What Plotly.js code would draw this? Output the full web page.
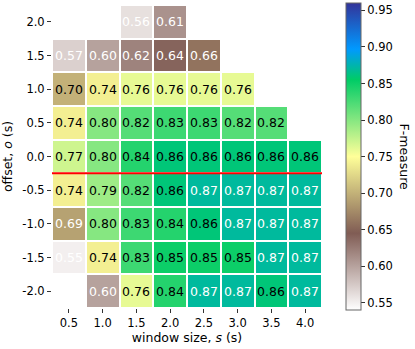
<!DOCTYPE html>
<html>
<head>
<meta charset="utf-8">
<script src="https://cdn.plot.ly/plotly-3.0.1.min.js"></script>
<style>
  html, body { margin: 0; padding: 0; background: #fff; }
  #plotDiv { width: 415px; height: 349px; }
</style>
</head>
<body>
<div id="plotDiv"></div>
<script>
// window sizes (x) and offsets (y), top row first
var windowSizes = [0.5, 1.0, 1.5, 2.0, 2.5, 3.0, 3.5, 4.0];
var offsets = [2.0, 1.5, 1.0, 0.5, 0.0, -0.5, -1.0, -1.5, -2.0];

// F-measure per offset row (null = no cell)
var fRow20  = [null, null, 0.56, 0.61, null, null, null, null];
var fRow15  = [0.57, 0.60, 0.62, 0.64, 0.66, null, null, null];
var fRow10  = [0.70, 0.74, 0.76, 0.76, 0.76, 0.76, null, null];
var fRow05  = [0.74, 0.80, 0.82, 0.83, 0.83, 0.82, 0.82, null];
var fRow00  = [0.77, 0.80, 0.84, 0.86, 0.86, 0.86, 0.86, 0.86];
var fRowM05 = [0.74, 0.79, 0.82, 0.86, 0.87, 0.87, 0.87, 0.87];
var fRowM10 = [0.69, 0.80, 0.83, 0.84, 0.86, 0.87, 0.87, 0.87];
var fRowM15 = [0.55, 0.74, 0.83, 0.85, 0.85, 0.85, 0.87, 0.87];
var fRowM20 = [null, 0.60, 0.76, 0.84, 0.87, 0.87, 0.86, 0.87];

var zRows = [fRow20, fRow15, fRow10, fRow05, fRow00, fRowM05, fRowM10, fRowM15, fRowM20];

var cbTicks = [0.55, 0.60, 0.65, 0.70, 0.75, 0.80, 0.85, 0.90, 0.95];
var splitOffset = -0.25;

// matplotlib terrain_r
var terrainR = [
  [0.0, 'rgb(255,255,255)'],
  [0.25, 'rgb(128,92,84)'],
  [0.5, 'rgb(255,255,153)'],
  [0.75, 'rgb(0,204,102)'],
  [0.85, 'rgb(0,153,255)'],
  [1.0, 'rgb(51,51,153)']
];

var trace = {
  type: 'heatmap',
  x: windowSizes,
  y: offsets,
  z: zRows,
  zmin: 0.54,
  zmax: 0.96,
  colorscale: terrainR,
  xgap: 2,
  ygap: 2,
  hoverongaps: false,
  colorbar: {
    x: 1.088, xanchor: 'left', xpad: 0,
    y: 0.498, yanchor: 'middle', ypad: 0,
    len: 1.01, lenmode: 'fraction',
    thickness: 15, thicknessmode: 'pixels',
    outlinecolor: '#666', outlinewidth: 1,
    ticks: 'outside', ticklen: 4, tickcolor: '#333',
    tickvals: cbTicks,
    ticktext: cbTicks.map(function (v) { return v.toFixed(2); }),
    tickfont: { size: 11.5, color: '#000' }
  }
};

var annotations = [];
for (var i = 0; i < offsets.length; i++) {
  for (var j = 0; j < windowSizes.length; j++) {
    var v = zRows[i][j];
    if (v === null) continue;
    annotations.push({
      x: windowSizes[j], y: offsets[i], xref: 'x', yref: 'y',
      text: v.toFixed(2), showarrow: false,
      font: { size: 12.5, color: (v < 0.695 || v > 0.865) ? '#fff' : '#000' }
    });
  }
}
// colorbar label, reads top to bottom
annotations.push({
  xref: 'paper', yref: 'paper', x: 1.307, y: 0.497,
  xanchor: 'center', yanchor: 'middle',
  text: 'F-measure', textangle: 90, showarrow: false,
  font: { size: 12.5, color: '#000' }
});

var layout = {
  width: 415, height: 349,
  margin: { l: 51.5, r: 93, t: 4, b: 41 },
  paper_bgcolor: '#fff', plot_bgcolor: '#fff',
  font: { family: 'DejaVu Sans, sans-serif', size: 11.5, color: '#000' },
  xaxis: {
    range: [0.25, 4.25], tickvals: windowSizes,
    ticktext: windowSizes.map(function (v) { return v.toFixed(1); }),
    ticks: 'outside', ticklen: 4, tickcolor: '#333',
    showgrid: false, zeroline: false, showline: false,
    title: { text: 'window size, <i>s</i> (s)', font: { size: 12.5 }, standoff: 4 }
  },
  yaxis: {
    range: [-2.25, 2.25], tickvals: offsets,
    ticktext: offsets.map(function (v) { return v.toFixed(1); }),
    ticks: 'outside', ticklen: 4, tickcolor: '#333',
    showgrid: false, zeroline: false, showline: false,
    title: { text: 'offset, <i>o</i> (s)', font: { size: 12.5 }, standoff: 6 }
  },
  shapes: [{
    type: 'line', xref: 'x', yref: 'y',
    x0: 0.25, x1: 4.25, y0: splitOffset, y1: splitOffset,
    line: { color: 'red', width: 2 }
  }],
  annotations: annotations
};

Plotly.newPlot('plotDiv', [trace], layout, { displayModeBar: false, staticPlot: true });
</script>
</body>
</html>
